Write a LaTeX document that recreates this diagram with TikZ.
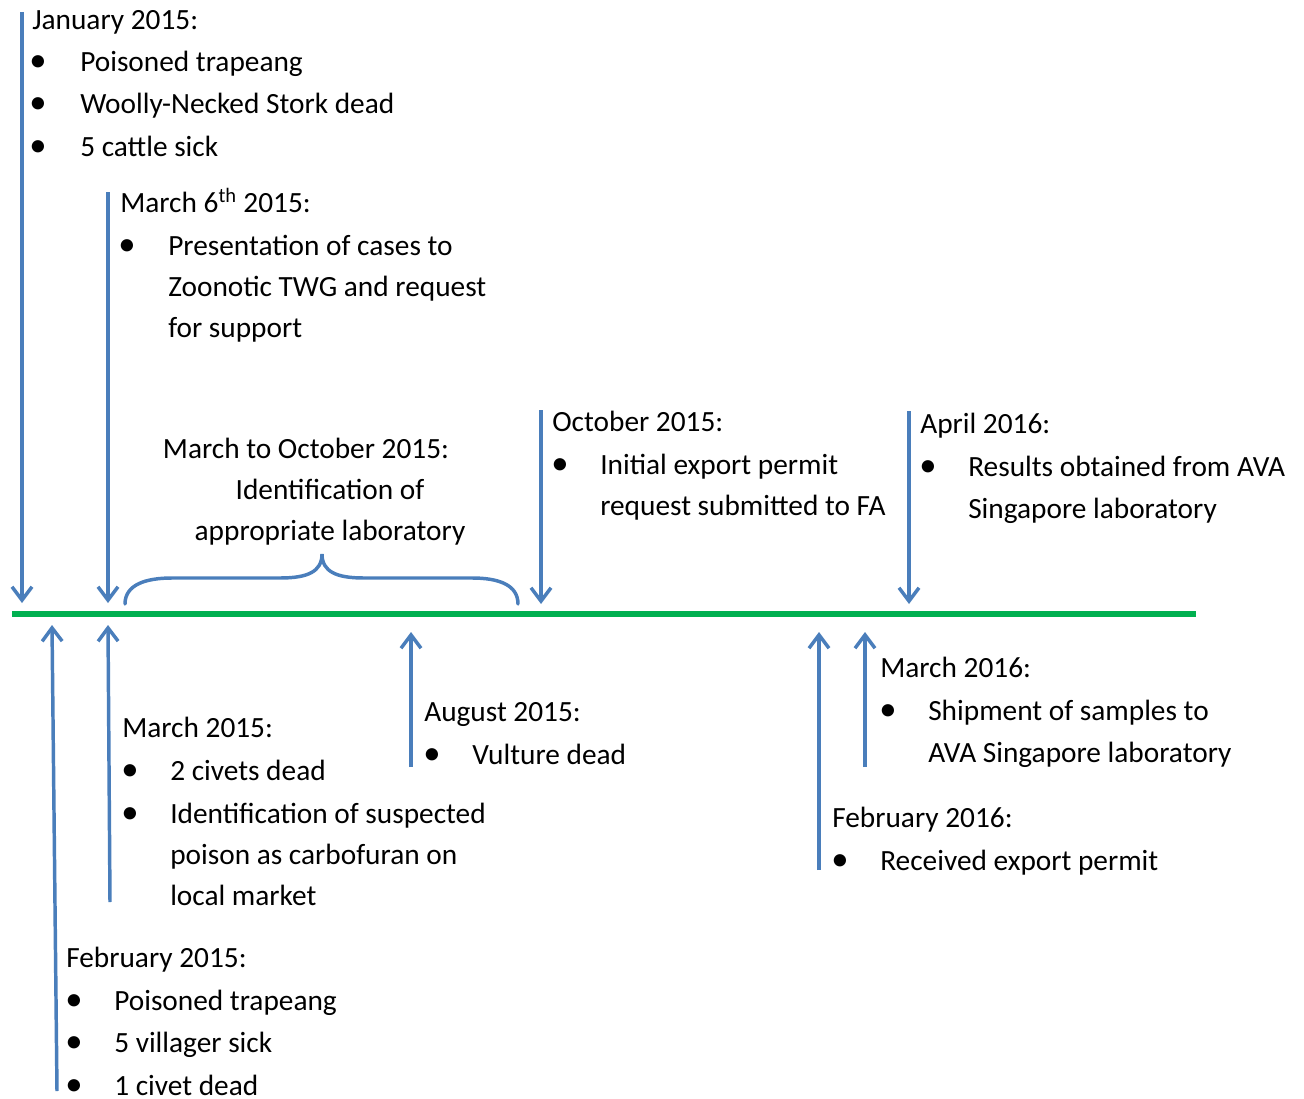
\documentclass[tikz,border=0pt]{standalone}
\usepackage{fontspec}
\setmainfont{Carlito}
\usetikzlibrary{arrows.meta}
\definecolor{arrblue}{HTML}{4A7EBB}
\definecolor{tlgreen}{HTML}{00B050}
\begin{document}
\begin{tikzpicture}[x=0.75pt,y=-0.75pt,
  txt/.style={anchor=mid west,inner sep=0pt,yshift=-4.5pt,font=\fontsize{22}{26}\selectfont},
  ctxt/.style={anchor=mid,inner sep=0pt,yshift=-4.5pt,font=\fontsize{22}{26}\selectfont},
  bul/.style={anchor=mid,inner sep=0pt,yshift=-4.5pt,font=\fontsize{26}{30}\selectfont},
  arr/.style={draw=arrblue,line width=2.6pt,-{Straight Barb[length=10pt,width=15pt]}},
  lineonly/.style={draw=arrblue,line width=2.6pt},
  tline/.style={draw=tlgreen,line width=4pt}]
\useasboundingbox (0,0) rectangle (1304,1099);
% timeline
\coordinate (t0) at (12,614);
\coordinate (t1) at (1196,614);
\draw[tline] (t0) -- (t1);
% arrow coordinates
\coordinate (jan0) at (22,12);   \coordinate (jan1) at (22,603);
\coordinate (m60) at (108,192);  \coordinate (m61) at (108,603);
\coordinate (oct0) at (541,410); \coordinate (oct1) at (541,604);
\coordinate (apr0) at (909,411); \coordinate (apr1) at (909,604);
\coordinate (feb0) at (57,1091); \coordinate (feb1) at (52,625);
\coordinate (mar0) at (110,902); \coordinate (mar1) at (108,625);
\coordinate (aug0) at (411,767); \coordinate (aug1) at (411,632);
\coordinate (f160) at (819,870); \coordinate (f161) at (819,632);
\coordinate (m160) at (865,767); \coordinate (m161) at (865,632);
\foreach \a/\b in {jan0/jan1,m60/m61,oct0/oct1,apr0/apr1,feb0/feb1,mar0/mar1,aug0/aug1,f160/f161,m160/m161}
  \draw[arr] (\a) -- (\b);
% brace
\coordinate (brL) at (125,604);
\coordinate (brM) at (322,554);
\coordinate (brR) at (518,604);
\draw[lineonly,line cap=round] (brL) .. controls (125,585) and (145,578) .. (172,578)
  -- (280,578) .. controls (307,578) and (322,572) .. (brM)
  .. controls (322,572) and (337,578) .. (364,578)
  -- (472,578) .. controls (499,578) and (518,585) .. (brR);
% January 2015
\node[txt] (janh) at (32,20) {January 2015:};
\node[bul] (janb1) at (38,62) {•};  \node[txt] (jant1) at (80,62) {Poisoned trapeang};
\node[bul] (janb2) at (38,104) {•}; \node[txt] (jant2) at (80,104) {Woolly-Necked Stork dead};
\node[bul] (janb3) at (38,147) {•}; \node[txt] (jant3) at (80,147) {5 cattle sick};
% March 6th 2015
\node[txt] (m6h) at (120,203) {March 6\textsuperscript{th} 2015:};
\node[bul] (m6b1) at (127,246) {•}; \node[txt] (m6t1) at (168,246) {Presentation of cases to};
\node[txt] (m6t2) at (168,287) {Zoonotic TWG and request};
\node[txt] (m6t3) at (168,328) {for support};
% March to October 2015
\node[ctxt] (moh) at (306,449) {March to October 2015:};
\node[ctxt] (mot1) at (330,490) {Identification of};
\node[ctxt] (mot2) at (330,531) {appropriate laboratory};
% October 2015
\node[txt] (octh) at (552,422) {October 2015:};
\node[bul] (octb1) at (560,465) {•}; \node[txt] (octt1) at (600,465) {Initial export permit};
\node[txt] (octt2) at (600,506) {request submitted to FA};
% April 2016
\node[txt] (aprh) at (920,424) {April 2016:};
\node[bul] (aprb1) at (928,467) {•}; \node[txt] (aprt1) at (968,467) {Results obtained from AVA};
\node[txt] (aprt2) at (968,509) {Singapore laboratory};
% March 2015
\node[txt] (marh) at (122,728) {March 2015:};
\node[bul] (marb1) at (130,771) {•}; \node[txt] (mart1) at (170,771) {2 civets dead};
\node[bul] (marb2) at (130,814) {•}; \node[txt] (mart2) at (170,814) {Identification of suspected};
\node[txt] (mart3) at (170,855) {poison as carbofuran on};
\node[txt] (mart4) at (170,896) {local market};
% August 2015
\node[txt] (augh) at (424,712) {August 2015:};
\node[bul] (augb1) at (432,755) {•}; \node[txt] (augt1) at (472,755) {Vulture dead};
% March 2016
\node[txt] (m16h) at (880,668) {March 2016:};
\node[bul] (m16b1) at (888,711) {•}; \node[txt] (m16t1) at (928,711) {Shipment of samples to};
\node[txt] (m16t2) at (928,753) {AVA Singapore laboratory};
% February 2016
\node[txt] (f16h) at (832,818) {February 2016:};
\node[bul] (f16b1) at (840,861) {•}; \node[txt] (f16t1) at (880,861) {Received export permit};
% February 2015
\node[txt] (febh) at (66,958) {February 2015:};
\node[bul] (febb1) at (74,1001) {•}; \node[txt] (febt1) at (114,1001) {Poisoned trapeang};
\node[bul] (febb2) at (74,1043) {•}; \node[txt] (febt2) at (114,1043) {5 villager sick};
\node[bul] (febb3) at (74,1086) {•}; \node[txt] (febt3) at (114,1086) {1 civet dead};
\end{tikzpicture}
\end{document}
